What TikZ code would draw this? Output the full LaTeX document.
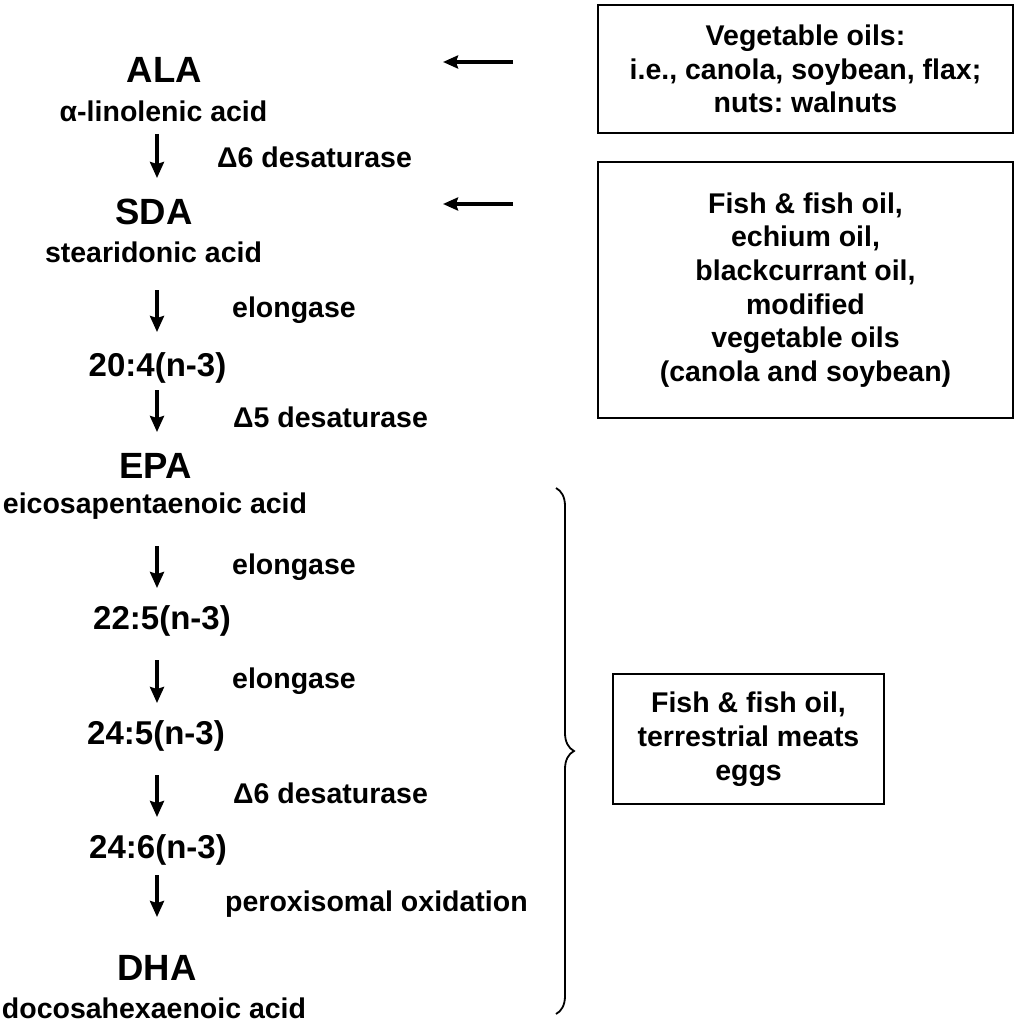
\documentclass[tikz,border=0pt]{standalone}
\usepackage{fontspec}
\setmainfont{Liberation Sans}
\usetikzlibrary{arrows.meta,decorations.pathreplacing}

\begin{document}
\frenchspacing
\begin{tikzpicture}[x=1pt,y=-1pt,
  acid/.style={anchor=base,inner sep=0pt,font=\bfseries\fontsize{36.5}{40}\selectfont},
  fullname/.style={anchor=base,inner sep=0pt,font=\bfseries\fontsize{28.5}{34}\selectfont},
  chain/.style={anchor=base,inner sep=0pt,font=\bfseries\fontsize{33}{38}\selectfont},
  enzyme/.style={anchor=base west,inner sep=0pt,font=\bfseries\fontsize{28.5}{34}\selectfont},
  source/.style={draw,line width=2pt,inner sep=0pt,align=center,font=\bfseries\fontsize{28.5}{33.7}\selectfont},
  conv/.style={line width=3.3pt,-{Stealth[length=16pt,width=14pt,inset=2pt]}},
  feed/.style={line width=3.6pt,-{Stealth[length=15pt,width=13pt,inset=2pt]}}]
\useasboundingbox (0,0) rectangle (1017,1024);
\node[acid] (ala) at (164.5,83) {ALA};
\node[fullname] (alaname) at (163.5,122) {α-linolenic acid};
\node[acid] (sda) at (154,225) {SDA};
\node[fullname] (sdaname) at (153.5,262) {stearidonic acid};
\node[chain] (c204) at (157.5,376) {20:4(n-3)};
\node[acid] (epa) at (155.5,478) {EPA};
\node[fullname] (epaname) at (155,513) {eicosapentaenoic acid};
\node[chain] (c225) at (162,629) {22:5(n-3)};
\node[chain] (c245) at (156,744) {24:5(n-3)};
\node[chain] (c246) at (158,858) {24:6(n-3)};
\node[acid] (dha) at (157,980) {DHA};
\node[fullname] (dhaname) at (154,1018) {docosahexaenoic acid};
\node[enzyme] (e1) at (217,168) {Δ6 desaturase};
\node[enzyme] (e2) at (232,317) {elongase};
\node[enzyme] (e3) at (233,427) {Δ5 desaturase};
\node[enzyme] (e4) at (232,574) {elongase};
\node[enzyme] (e5) at (232,688) {elongase};
\node[enzyme] (e6) at (233,803) {Δ6 desaturase};
\node[enzyme] (e7) at (225,911) {peroxisomal oxidation};
\node[source,minimum width=415pt,minimum height=128pt] (veg) at (805.5,69) {Vegetable oils:\\i.e., canola, soybean, flax;\\nuts: walnuts};
\node[source,minimum width=415pt,minimum height=256pt] (fishveg) at (805.5,290) {Fish \& fish oil,\\echium oil,\\blackcurrant oil,\\modified\\vegetable oils\\(canola and soybean)};
\node[source,minimum width=271pt,minimum height=130pt] (fishmeat) at (748.5,739) {Fish \& fish oil,\\terrestrial meats\\eggs};
\coordinate (ax) at (157,0);
\coordinate (vegout) at (513,62);
\coordinate (alain) at (443,62);
\coordinate (fishout) at (513,204);
\coordinate (sdain) at (443,204);
\path[draw,conv,shorten <=12pt,shorten >=47pt] (alaname.base -| ax) -- (sda.base -| ax);
\path[draw,conv,shorten <=28pt,shorten >=44pt] (sdaname.base -| ax) -- (c204.base -| ax);
\path[draw,conv,shorten <=14pt,shorten >=46pt] (c204.base -| ax) -- (epa.base -| ax);
\path[draw,conv,shorten <=33pt,shorten >=41pt] (epaname.base -| ax) -- (c225.base -| ax);
\path[draw,conv,shorten <=31pt,shorten >=41pt] (c225.base -| ax) -- (c245.base -| ax);
\path[draw,conv,shorten <=31pt,shorten >=41pt] (c245.base -| ax) -- (c246.base -| ax);
\path[draw,conv,shorten <=17pt,shorten >=63pt] (c246.base -| ax) -- (dha.base -| ax);
\path[draw,feed] (vegout) -- (alain);
\path[draw,feed] (fishout) -- (sdain);
\draw[line width=1.8pt,decorate,decoration={brace,amplitude=18pt}] (556,488) -- (556,1014);
\end{tikzpicture}
\end{document}
